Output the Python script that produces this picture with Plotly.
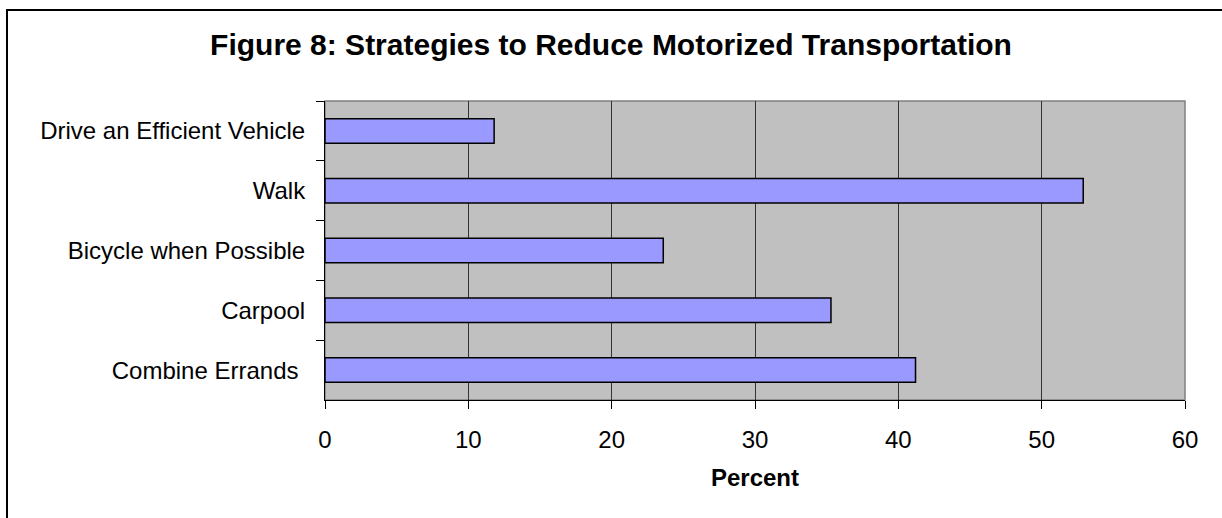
import plotly.graph_objects as go

categories = ["Drive an Efficient Vehicle", "Walk", "Bicycle when Possible", "Carpool", "Combine Errands\u00a0"]
percent = [11.8, 52.9, 23.6, 35.3, 41.2]
x_ticks = [0, 10, 20, 30, 40, 50, 60]

W, H = 1222, 518
L, R, T, B = 325, 1222 - 1185, 101, 518 - 400
pw, ph = W - L - R, H - T - B

def px_x(p):
    return (p - L) / pw

def px_y(p):
    return (H - B - p) / ph

font = "Arial, Liberation Sans, sans-serif"

fig = go.Figure(go.Bar(
    y=categories, x=percent, orientation="h",
    marker=dict(color="#9999FF", line=dict(color="#000000", width=1.5)),
    hoverinfo="x+y",
))

fig.update_layout(
    width=W, height=H,
    margin=dict(l=L, r=R, t=T, b=B, pad=0),
    paper_bgcolor="#FFFFFF", plot_bgcolor="#C0C0C0",
    bargap=0.59, showlegend=False,
    title=dict(text="<b>Figure 8: Strategies to Reduce Motorized Transportation</b>",
               x=0.5, xanchor="center", xref="container",
               y=1 - 44 / H, yanchor="middle", yref="container",
               font=dict(family=font, size=30, color="#000000")),
    font=dict(family=font, color="#000000"),
    xaxis=dict(range=[0, 60], tickvals=x_ticks, ticks="outside", ticklen=8,
               tickcolor="#000000", tickwidth=1, showline=True, linecolor="#000000",
               linewidth=1, showgrid=True, gridcolor="#333333", gridwidth=1,
               zeroline=False, tickfont=dict(size=24, family=font), ticklabelstandoff=10,
               title=dict(text="<b>Percent</b>", font=dict(size=24, family=font), standoff=17)),
    yaxis=dict(categoryorder="array", categoryarray=categories, autorange="reversed",
               ticks="outside", tickson="boundaries", ticklen=8, tickcolor="#000000",
               showline=True, linecolor="#000000", linewidth=1, showgrid=False,
               tickfont=dict(size=24, family=font), ticklabelstandoff=14),
    shapes=[
        dict(type="rect", xref="paper", yref="paper", x0=0, x1=1, y0=0, y1=1,
             line=dict(color="#808080", width=1.5), fillcolor="rgba(0,0,0,0)", layer="below"),
        dict(type="rect", xref="paper", yref="paper",
             x0=px_x(7), x1=px_x(W + 10), y0=px_y(H + 10), y1=px_y(10),
             line=dict(color="#000000", width=2), fillcolor="rgba(0,0,0,0)"),
    ],
)

fig.write_html("out.html", config={"displayModeBar": False},
               post_script="document.body.style.margin='0';")
